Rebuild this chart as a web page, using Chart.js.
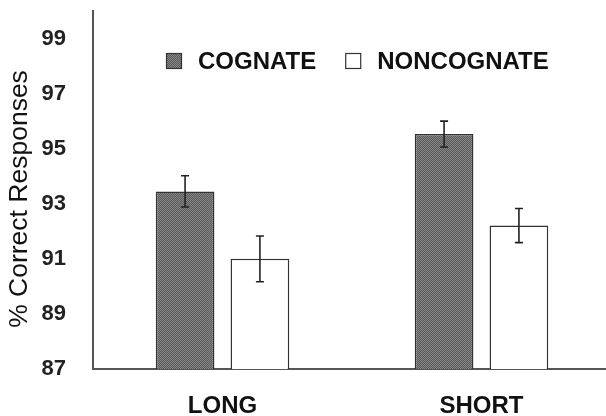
<!DOCTYPE html>
<html>
<head>
<meta charset="utf-8">
<script src="https://cdn.jsdelivr.net/npm/chart.js@4/dist/chart.umd.min.js"></script>
<style>
  html, body { margin: 0; padding: 0; background: #fff; overflow: hidden; }
  /* the plot runs a few pixels past the right edge in the original */
  #wrap { width: 606px; height: 416px; overflow: hidden; }
</style>
</head>
<body>
<div id="wrap"><canvas id="chart" width="611" height="416"></canvas></div>
<script>
// data
var categories = ['LONG', 'SHORT'];
var seriesNames = ['COGNATE', 'NONCOGNATE'];
var cognate = [93.45, 95.53];
var noncognate = [91.0, 92.21];
var cognateErr = [0.57, 0.47];
var noncognateErr = [0.83, 0.62];
var yTicks = [87, 89, 91, 93, 95, 97, 99];
var yTitle = '% Correct Responses';

var FONT = "'Liberation Sans', Arial, sans-serif";

// fine checker texture used for the cognate bars
function makePattern() {
  var c = document.createElement('canvas');
  c.width = 2; c.height = 2;
  var g = c.getContext('2d');
  g.fillStyle = '#5a5a5a';
  g.fillRect(0, 0, 2, 2);
  g.fillStyle = '#878787';
  g.fillRect(0, 0, 1, 1);
  g.fillRect(1, 1, 1, 1);
  return g.createPattern(c, 'repeat');
}
var cogFill = makePattern();

// error bars drawn from the err arrays through the y scale
var errorBars = {
  id: 'errorBars',
  afterDatasetsDraw: function(chart) {
    var ctx = chart.ctx;
    var y = chart.scales.y;
    var errs = [cognateErr, noncognateErr];
    ctx.save();
    ctx.strokeStyle = '#222';
    ctx.lineWidth = 1.6;
    chart.data.datasets.forEach(function(ds, i) {
      var meta = chart.getDatasetMeta(i);
      meta.data.forEach(function(bar, j) {
        var v = ds.data[j], e = errs[i][j];
        var top = y.getPixelForValue(v + e);
        var bot = y.getPixelForValue(v - e);
        ctx.beginPath();
        ctx.moveTo(bar.x, top); ctx.lineTo(bar.x, bot);
        ctx.moveTo(bar.x - 4, top); ctx.lineTo(bar.x + 4, top);
        ctx.moveTo(bar.x - 4, bot); ctx.lineTo(bar.x + 4, bot);
        ctx.stroke();
      });
    });
    ctx.restore();
  }
};

// legend sits inside the plot area and the axis title is a bit off-centre,
// so both are drawn by hand
var extras = {
  id: 'extras',
  afterDraw: function(chart) {
    var ctx = chart.ctx;
    var x = 166;
    var yMid = 61;
    ctx.save();
    ctx.font = 'bold 24px ' + FONT;
    ctx.textBaseline = 'middle';
    ctx.textAlign = 'left';
    chart.data.datasets.forEach(function(ds, i) {
      ctx.fillStyle = ds.backgroundColor;
      ctx.fillRect(x, yMid - 8, 16, 16);
      ctx.strokeStyle = '#333';
      ctx.lineWidth = 1.2;
      ctx.strokeRect(x + 0.5, yMid - 7.5, 15, 15);
      ctx.fillStyle = '#111';
      ctx.fillText(ds.label, x + 32, yMid + 1);
      x += 32 + ctx.measureText(ds.label).width + 29;
    });
    ctx.restore();

    ctx.save();
    ctx.translate(20, 199);
    ctx.rotate(-Math.PI / 2);
    ctx.font = '26.5px ' + FONT;
    ctx.fillStyle = '#111';
    ctx.textAlign = 'center';
    ctx.textBaseline = 'middle';
    ctx.fillText(yTitle, 0, 0);
    ctx.restore();
  }
};

new Chart(document.getElementById('chart'), {
  type: 'bar',
  data: {
    labels: categories,
    datasets: [
      {
        label: seriesNames[0],
        data: cognate,
        backgroundColor: cogFill,
        borderColor: '#333',
        borderWidth: 1.5,
        barPercentage: 0.784,
        categoryPercentage: 0.578
      },
      {
        label: seriesNames[1],
        data: noncognate,
        backgroundColor: '#ffffff',
        borderColor: '#333',
        borderWidth: 1.5,
        barPercentage: 0.784,
        categoryPercentage: 0.578
      }
    ]
  },
  options: {
    responsive: false,
    animation: false,
    layout: { padding: { top: 11, right: 0, left: 0, bottom: 0 } },
    plugins: {
      legend: { display: false },
      tooltip: { enabled: false }
    },
    scales: {
      x: {
        grid: { display: false, drawTicks: false },
        border: { display: true, color: '#555', width: 2 },
        ticks: {
          color: '#111',
          padding: 23,
          font: { family: FONT, size: 24, weight: 'bold' }
        },
        afterFit: function(s) {
          s.height = 47;
          s.paddingLeft = 0;
          s.paddingRight = 0;
        }
      },
      y: {
        min: 87,
        max: 100,
        grid: { display: false, drawTicks: false },
        border: { display: true, color: '#555', width: 2 },
        afterBuildTicks: function(s) {
          s.ticks = yTicks.map(function(v) { return { value: v }; });
        },
        ticks: {
          color: '#222',
          padding: 27,
          font: { family: FONT, size: 22, weight: 'bold' }
        },
        afterFit: function(s) {
          s.width = 93;
          s.paddingTop = 0;
          s.paddingBottom = 0;
        }
      }
    }
  },
  plugins: [errorBars, extras]
});
</script>
</body>
</html>
